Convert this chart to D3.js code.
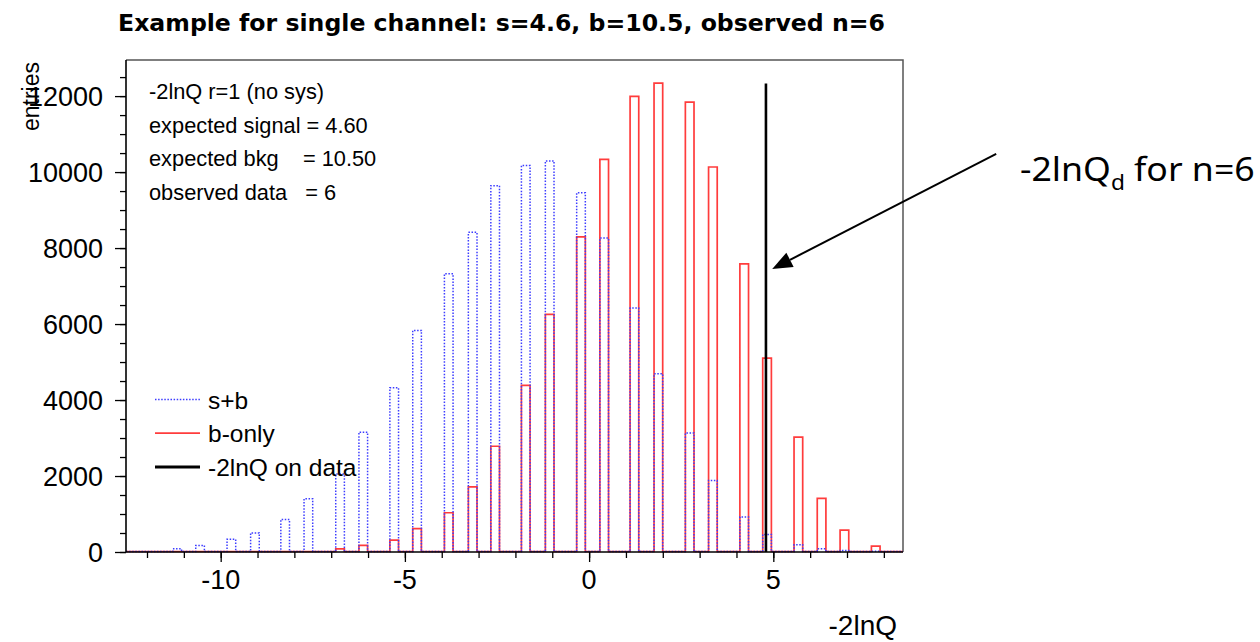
<!DOCTYPE html>
<html>
<head>
<meta charset="utf-8">
<script src="https://cdn.jsdelivr.net/npm/d3@7/dist/d3.min.js"></script>
<style>
  html, body { margin: 0; padding: 0; background: #ffffff; }
  svg { display: block; }
</style>
</head>
<body>
<svg id="chart" width="1260" height="642"></svg>
<script>
// ---- data ----
const binCenters = [-11.18, -10.56, -9.71, -9.07, -8.25, -7.62, -6.76, -6.13, -5.29, -4.67,
                    -3.81, -3.16, -2.55, -1.72, -1.07, -0.22, 0.41, 1.23, 1.88, 2.73,
                    3.36, 4.21, 4.83, 5.68, 6.31, 6.93, 7.78];
const sbValues    = [70, 160, 320, 490, 840, 1390, 2040, 3140, 4310, 5820,
                     7310, 8400, 9630, 10160, 10280, 9440, 8250, 6410, 4680, 3120,
                     1870, 910, 450, 180, 70, 25, 8];
const bValues     = [0, 0, 0, 0, 0, 0, 70, 160, 300, 600,
                     1020, 1700, 2770, 4370, 6240, 8280, 10320, 11980, 12330, 11830,
                     10120, 7570, 5090, 3010, 1400, 560, 140];
const binWidth = 0.235;
const dataValue = 4.80;        // -2lnQ observed
const dataLineHeight = 12330;
const arrowTip = [4.97, 7450];  // data coords of arrow tip
const xDomain = [-12.57, 8.52];
const yDomain = [0, 12950];
const xMajorTicks = [-10, -5, 0, 5];
const xMinorTicks = d3.range(-12, 9, 1);
const yMajorTicks = [0, 2000, 4000, 6000, 8000, 10000, 12000];
const yMinorTicks = d3.range(0, 13000, 500);
const infoLines = ["-2lnQ r=1 (no sys)", "expected signal = 4.60", "expected bkg    = 10.50", "observed data   = 6"];
const legendItems = [
  {label: "s+b", key: "sb"},
  {label: "b-only", key: "b"},
  {label: "-2lnQ on data", key: "data"}
];

// ---- layout ----
const svg = d3.select("#chart");
const L = 126, R = 903, T = 60, B = 552;
const x = d3.scaleLinear().domain(xDomain).range([L, R]);
const y = d3.scaleLinear().domain(yDomain).range([B, T]);

const RED = "#ff3c3c", BLUE = "#3c3cff";

svg.append("rect").attr("width", 1260).attr("height", 642).attr("fill", "#fff");

// Title
svg.append("text")
  .attr("x", 118).attr("y", 31)
  .attr("font-family", "DejaVu Sans").attr("font-weight", "bold")
  .attr("font-size", 23)
  .attr("textLength", 767).attr("lengthAdjust", "spacingAndGlyphs")
  .text("Example for single channel: s=4.6, b=10.5, observed n=6");

// Frame (top/right gray)
svg.append("path")
  .attr("d", `M${L},${T}H${R}V${B}`)
  .attr("fill", "none").attr("stroke", "#555").attr("stroke-width", 1.5);

// histogram outline paths
function histPath(vals) {
  const pts = [[xDomain[0], 0]];
  binCenters.forEach((c, i) => {
    const l = c - binWidth / 2, r = c + binWidth / 2;
    pts.push([l, 0], [l, vals[i]], [r, vals[i]], [r, 0]);
  });
  pts.push([xDomain[1], 0]);
  return d3.line().x(d => x(d[0])).y(d => y(d[1]) - 0.5)(pts);
}

svg.append("path").attr("d", histPath(bValues))
  .attr("fill", "none").attr("stroke", RED).attr("stroke-width", 1.7);
svg.append("path").attr("d", histPath(sbValues))
  .attr("fill", "none").attr("stroke", BLUE).attr("stroke-width", 1.5)
  .attr("stroke-dasharray", "1.5,1.6");

// data line
svg.append("line")
  .attr("x1", x(dataValue)).attr("x2", x(dataValue))
  .attr("y1", y(0)).attr("y2", y(dataLineHeight))
  .attr("stroke", "#000").attr("stroke-width", 2.6);

// Axes
const yAxisG = svg.append("g").attr("transform", `translate(${L},0)`);
yAxisG.append("g").call(d3.axisLeft(y).tickValues(yMinorTicks).tickSize(6).tickFormat(""))
  .call(g => g.select(".domain").remove());
yAxisG.append("g").call(d3.axisLeft(y).tickValues(yMajorTicks).tickSize(11).tickFormat(""))
  .call(g => g.select(".domain").remove());
yAxisG.selectAll("line").attr("stroke", "#000").attr("stroke-width", 1.3);
yAxisG.append("line").attr("x1", 0).attr("x2", 0).attr("y1", T).attr("y2", B)
  .attr("stroke", "#000").attr("stroke-width", 1.6);
yAxisG.selectAll("text.ylab").data(yMajorTicks).enter().append("text")
  .attr("class", "ylab")
  .attr("x", -23).attr("y", d => y(d)).attr("dy", "0.355em")
  .attr("text-anchor", "end").attr("fill", "#000")
  .attr("font-family", "Liberation Sans").attr("font-size", 27)
  .text(d => d);

const xAxisG = svg.append("g").attr("transform", `translate(0,${B})`);
xAxisG.append("g").call(d3.axisBottom(x).tickValues(xMinorTicks).tickSize(6).tickFormat(""))
  .call(g => g.select(".domain").remove());
xAxisG.append("g").call(d3.axisBottom(x).tickValues(xMajorTicks).tickSize(10).tickFormat(""))
  .call(g => g.select(".domain").remove());
xAxisG.selectAll("line").attr("stroke", "#000").attr("stroke-width", 1.3);
xAxisG.append("line").attr("x1", L).attr("x2", R).attr("y1", 0).attr("y2", 0)
  .attr("stroke", "#000").attr("stroke-width", 1.4);
xAxisG.selectAll("text.xlab").data(xMajorTicks).enter().append("text")
  .attr("class", "xlab")
  .attr("x", d => x(d)).attr("y", 37)
  .attr("text-anchor", "middle").attr("fill", "#000")
  .attr("font-family", "Liberation Sans").attr("font-size", 27)
  .text(d => d);

// axis titles
svg.append("text")
  .attr("transform", `translate(39,62) rotate(-90)`)
  .attr("text-anchor", "end")
  .attr("font-family", "Liberation Sans").attr("font-size", 23)
  .text("entries");
svg.append("text")
  .attr("x", 897).attr("y", 635)
  .attr("text-anchor", "end")
  .attr("font-family", "Liberation Sans").attr("font-size", 28)
  .text("-2lnQ");

// info text
svg.selectAll("text.info").data(infoLines).enter().append("text")
  .attr("class", "info")
  .attr("x", 149).attr("y", (d, i) => 99 + i * 33.5)
  .attr("font-family", "Liberation Sans").attr("font-size", 21.8)
  .attr("xml:space", "preserve")
  .style("white-space", "pre")
  .text(d => d);

// legend
const legG = svg.append("g");
legendItems.forEach((it, i) => {
  const yy = 399.5 + i * 33.7;
  const ln = legG.append("line").attr("x1", 155).attr("x2", 200).attr("y1", yy).attr("y2", yy);
  if (it.key === "sb") ln.attr("stroke", BLUE).attr("stroke-width", 1.5).attr("stroke-dasharray", "1.5,1.6");
  else if (it.key === "b") ln.attr("stroke", RED).attr("stroke-width", 1.8);
  else ln.attr("stroke", "#000").attr("stroke-width", 3);
  legG.append("text").attr("x", 208).attr("y", yy + 9)
    .attr("font-family", "Liberation Sans").attr("font-size", 24.5)
    .text(it.label);
});

// annotation arrow
const tip = [x(arrowTip[0]), y(arrowTip[1])];
const tail = [tip[0] + 224, tip[1] - 115];
const ang = Math.atan2(tail[1] - tip[1], tail[0] - tip[0]);
const headLen = 20, headW = 8;
const base = [tip[0] + headLen * Math.cos(ang), tip[1] + headLen * Math.sin(ang)];
svg.append("line")
  .attr("x1", tail[0]).attr("y1", tail[1]).attr("x2", base[0]).attr("y2", base[1])
  .attr("stroke", "#000").attr("stroke-width", 2);
const p1 = [base[0] + headW * Math.sin(ang), base[1] - headW * Math.cos(ang)];
const p2 = [base[0] - headW * Math.sin(ang), base[1] + headW * Math.cos(ang)];
svg.append("path")
  .attr("d", `M${tip[0]},${tip[1]}L${p1[0]},${p1[1]}L${p2[0]},${p2[1]}Z`)
  .attr("fill", "#000");

const ann = svg.append("text")
  .attr("transform", "translate(1020,181) scale(1.08,1)")
  .attr("font-family", "Noto Sans").attr("font-size", 33);
ann.append("tspan").text("-2lnQ");
ann.append("tspan").attr("font-size", 21).attr("dy", 9).text("d");
ann.append("tspan").attr("dy", -9).text(" for n=6");
</script>
</body>
</html>
